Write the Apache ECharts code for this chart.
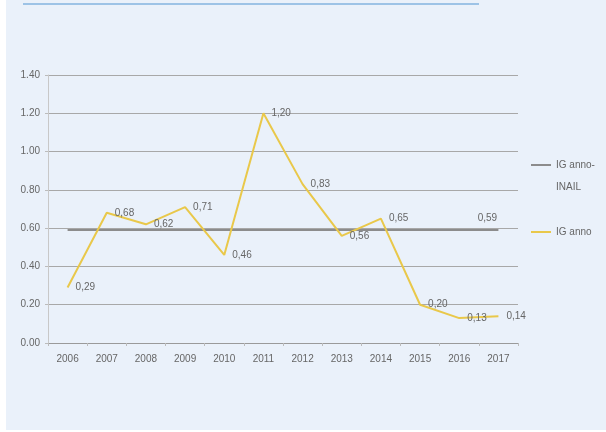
<!DOCTYPE html>
<html><head><meta charset="utf-8">
<script src="https://cdn.jsdelivr.net/npm/echarts@6/dist/echarts.min.js"></script>
<style>html,body{margin:0;padding:0;background:#fff}#c{width:606px;height:432px}</style>
</head><body><div id="c"></div>
<script>
const years = ['2006','2007','2008','2009','2010','2011','2012','2013','2014','2015','2016','2017'];
const igAnno = [0.29,0.68,0.62,0.71,0.46,1.20,0.83,0.56,0.65,0.20,0.13,0.14];
const igInail = [0.59,0.59,0.59,0.59,0.59,0.59,0.59,0.59,0.59,0.59,0.59,0.59];
const yTicks = [0,0.2,0.4,0.6,0.8,1.0,1.2,1.4];

const FONT = '"Liberation Sans Narrow","Liberation Sans",sans-serif';
const chart = echarts.init(document.getElementById('c'));
const fmt = v => v.toFixed(2).replace('.', ',');
chart.setOption({
  animation:false,
  backgroundColor:'#fff',
  graphic:[
    {type:'rect',shape:{x:6,y:0,width:600,height:430},style:{fill:'#EAF1FA'},z:-10},
    {type:'line',shape:{x1:23,y1:4,x2:479,y2:4},style:{stroke:'#9DC3E6',lineWidth:2}}
  ],
  grid:{left:48,right:88,top:75,bottom:89},
  legend:{
    orient:'vertical',left:531,top:132,itemGap:23,itemWidth:20,itemHeight:2,
    icon:'rect',padding:0,
    formatter:n=> n==='IG anno-INAIL' ? ' \nIG anno-\nINAIL' : n,
    textStyle:{fontFamily:FONT,fontSize:10,color:'#666',lineHeight:22},
    data:[{name:'IG anno-INAIL'},{name:'IG anno'}]
  },
  xAxis:{type:'category',data:years,boundaryGap:true,
    axisLine:{lineStyle:{color:'#9a9a9a'}},
    axisTick:{show:true,lineStyle:{color:'#bbb'},length:3},
    axisLabel:{fontFamily:FONT,fontSize:10,color:'#666',margin:11}},
  yAxis:{type:'value',min:0,max:1.4,interval:0.2,
    axisLine:{show:true,lineStyle:{color:'#c8c8c8'}},
    axisTick:{show:true,length:3,lineStyle:{color:'#bbb'}},
    splitLine:{lineStyle:{color:'#a8a8a8',width:1.2}},
    axisLabel:{fontFamily:FONT,fontSize:10,color:'#666',margin:8,formatter:v=>v.toFixed(2)}},
  series:[
    {name:'IG anno-INAIL',type:'line',data:igInail.map((v,i)=>i===igInail.length-1?{value:v,label:{show:true}}:v),
      symbol:'circle',symbolSize:0,color:'#8C8C8C',lineStyle:{color:'#8C8C8C',width:2},
      label:{show:false,position:'top',offset:[-11,-2],formatter:p=>fmt(p.value),fontFamily:FONT,fontSize:10,color:'#666'}},
    {name:'IG anno',type:'line',data:igAnno,symbol:'circle',symbolSize:0,
      color:'#E9C84A',lineStyle:{color:'#E9C84A',width:2},
      label:{show:true,position:'right',distance:8,formatter:p=>fmt(p.value),fontFamily:FONT,fontSize:10,color:'#666'}}
  ]
});
</script></body></html>
